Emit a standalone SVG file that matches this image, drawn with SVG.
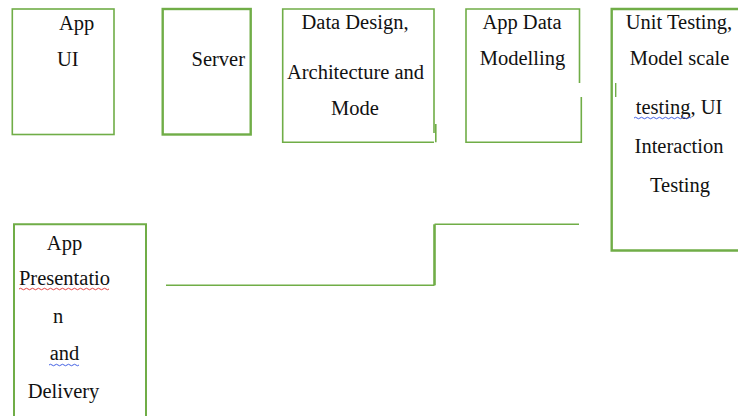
<svg xmlns="http://www.w3.org/2000/svg" width="738" height="416" viewBox="0 0 738 416">
<style>
.box{fill:#fff;stroke:#70AD47;stroke-width:1.6}
.thick{stroke-width:2.4}
.t{font-family:"Liberation Serif","Times New Roman",serif;font-size:20.5px;fill:#111}
.c{text-anchor:middle}
.line{fill:none;stroke:#70AD47;stroke-width:1.6}
.wr{fill:none;stroke:#e03030;stroke-width:0.9}
.wb{fill:none;stroke:#3050e0;stroke-width:0.9}
</style>
<rect width="738" height="416" fill="#fff"/>
<g id="connectors">
<path class="line" d="M166 285.3 H434.5"/>
<path class="line" d="M434.5 285.3 V224.3" style="stroke-width:2.6"/>
<path class="line" d="M434.5 224.3 H579"/>
</g>
<g id="app-ui">
<rect class="box" x="12.3" y="9" width="101.7" height="125.5"/>
<text class="t" x="59" y="30">App</text>
<text class="t" x="57" y="66">UI</text>
</g>
<g id="server">
<rect class="box thick" x="162.7" y="9" width="88" height="125.5"/>
<text class="t" x="191.5" y="66">Server</text>
</g>
<g id="data-design">
<path class="line" d="M434 133 V9 H282.7 V142.3 H434"/>
<path class="line" d="M435.8 124 V142.3"/>
<text class="t c" x="355" y="29">Data Design,</text>
<text class="t" x="287" y="79" textLength="137" lengthAdjust="spacing">Architecture  and</text>
<text class="t c" x="355" y="115">Mode</text>
</g>
<g id="app-data-modelling">
<path class="line" d="M579.5 83 V9 H466 V142.3 H581.3 V97"/>
<text class="t c" x="522" y="29">App Data</text>
<text class="t c" x="522.5" y="65">Modelling</text>
</g>
<g id="unit-testing">
<path class="line" d="M745 9 H611.7 V250.5 H745" style="stroke-width:2.4"/>
<path class="line" d="M615.7 83 V97" style="stroke-width:1.4"/>
<text class="t c" x="679" y="29">Unit Testing,</text>
<text class="t c" x="679.5" y="65">Model scale</text>
<text class="t c" x="679" y="114">testing, UI</text>
<text class="t c" x="679" y="153">Interaction</text>
<text class="t c" x="680" y="192">Testing</text>
<path class="wb" d="M634 118 q1.5 -1.5 3 0 t3 0 t3 0 t3 0 t3 0 t3 0 t3 0 t3 0 t3 0 t3 0 t3 0 t3 0 t3 0 t3 0 t3 0 t3 0 t3 0 t3 0 t3 0"/>
</g>
<g id="app-presentation">
<path class="line" d="M14 420 V224.3 H146 V420" style="stroke-width:2"/>
<text class="t c" x="64.5" y="250">App</text>
<text class="t c" x="64.5" y="285">Presentatio</text>
<text class="t c" x="58" y="323">n</text>
<text class="t c" x="64.5" y="360">and</text>
<text class="t c" x="63.5" y="398">Delivery</text>
<path class="wr" d="M19 289 q1.5 -1.5 3 0 t3 0 t3 0 t3 0 t3 0 t3 0 t3 0 t3 0 t3 0 t3 0 t3 0 t3 0 t3 0 t3 0 t3 0 t3 0 t3 0 t3 0 t3 0 t3 0 t3 0 t3 0 t3 0 t3 0 t3 0 t3 0 t3 0 t3 0 t3 0 t3 0"/>
<path class="wb" d="M49 365 q1.5 -1.5 3 0 t3 0 t3 0 t3 0 t3 0 t3 0 t3 0 t3 0 t3 0 t3 0"/>
</g>
</svg>
